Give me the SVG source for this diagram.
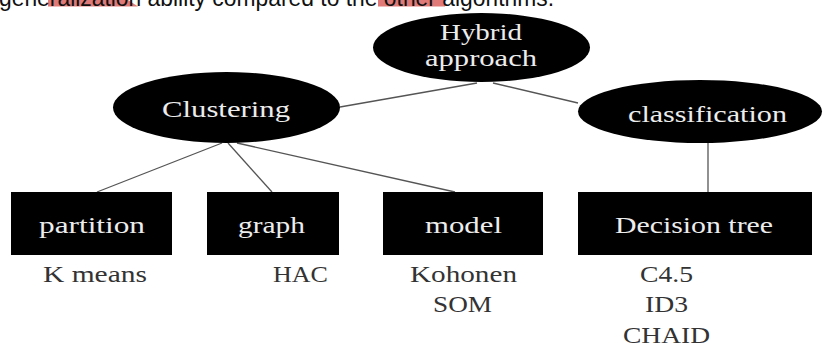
<svg xmlns="http://www.w3.org/2000/svg" width="829" height="347" viewBox="0 0 829 347">
<style>
.node{fill:#000}
.wt{font-family:"Liberation Serif",serif;font-size:24px;fill:#ececec}
.bt{font-family:"Liberation Serif",serif;font-size:24px;fill:#333}
.edge{stroke:#555;stroke-width:1.3;fill:none}
</style>
<rect width="829" height="347" fill="#fff"/>
<g id="caption">
<polygon points="48,0 128,0 138,6.5 48,6.5" fill="#e07a78"/>
<polygon points="378,0 445,0 445,6.5 378,6.5" fill="#e07a78"/>
<text x="-1" y="5.5" font-family="Liberation Sans, sans-serif" font-size="23" fill="#111" textLength="555" lengthAdjust="spacingAndGlyphs">generalization ability compared to the other algorithms.</text>
</g>
<g id="connectors">
<line class="edge" x1="340" y1="107" x2="477" y2="83"/>
<line class="edge" x1="493" y1="83" x2="578" y2="103"/>
<line class="edge" x1="222" y1="143" x2="97" y2="192"/>
<line class="edge" x1="228" y1="143" x2="272" y2="192"/>
<line class="edge" x1="237" y1="143" x2="455" y2="192"/>
<line class="edge" x1="708" y1="143" x2="708" y2="192"/>
</g>
<g id="hybrid">
<ellipse class="node" cx="481.5" cy="47.5" rx="108.5" ry="34.5"/>
<text class="wt" x="440" y="40" textLength="82" lengthAdjust="spacingAndGlyphs">Hybrid</text>
<text class="wt" x="425" y="66" textLength="112" lengthAdjust="spacingAndGlyphs">approach</text>
</g>
<g id="clustering">
<ellipse class="node" cx="226.5" cy="107.5" rx="113.5" ry="35.5"/>
<text class="wt" x="162" y="117" textLength="128" lengthAdjust="spacingAndGlyphs">Clustering</text>
</g>
<g id="classification">
<ellipse class="node" cx="700" cy="111.5" rx="122" ry="31.5"/>
<text class="wt" x="628" y="122" textLength="159" lengthAdjust="spacingAndGlyphs">classification</text>
</g>
<g id="partition">
<rect class="node" x="11" y="192" width="161" height="63"/>
<text class="wt" x="39" y="233" textLength="106" lengthAdjust="spacingAndGlyphs">partition</text>
<text class="bt" x="43" y="282" textLength="104" lengthAdjust="spacingAndGlyphs">K means</text>
</g>
<g id="graph">
<rect class="node" x="207" y="192" width="132" height="63"/>
<text class="wt" x="238" y="233" textLength="67" lengthAdjust="spacingAndGlyphs">graph</text>
<text class="bt" x="273" y="282" textLength="55" lengthAdjust="spacingAndGlyphs">HAC</text>
</g>
<g id="model">
<rect class="node" x="383" y="192" width="160" height="63"/>
<text class="wt" x="425" y="233" textLength="77" lengthAdjust="spacingAndGlyphs">model</text>
<text class="bt" x="410" y="282" textLength="107" lengthAdjust="spacingAndGlyphs">Kohonen</text>
<text class="bt" x="433" y="312" textLength="59" lengthAdjust="spacingAndGlyphs">SOM</text>
</g>
<g id="decision-tree">
<rect class="node" x="578" y="192" width="234" height="63"/>
<text class="wt" x="615" y="233" textLength="158" lengthAdjust="spacingAndGlyphs">Decision tree</text>
<text class="bt" x="640" y="282" textLength="53" lengthAdjust="spacingAndGlyphs">C4.5</text>
<text class="bt" x="645" y="312" textLength="43" lengthAdjust="spacingAndGlyphs">ID3</text>
<text class="bt" x="623" y="343" textLength="87" lengthAdjust="spacingAndGlyphs">CHAID</text>
</g>
</svg>
